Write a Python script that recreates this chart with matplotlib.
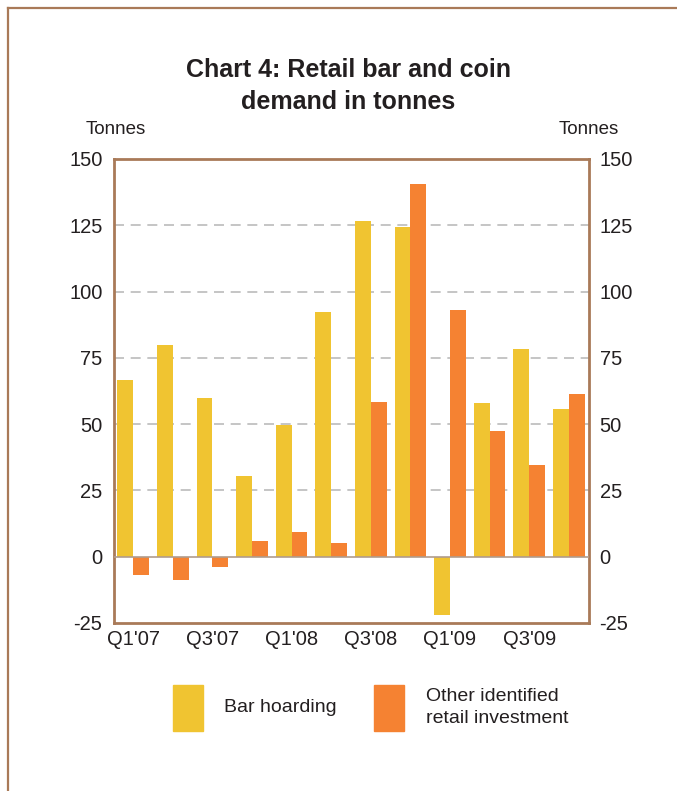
import numpy as np
import matplotlib.pyplot as plt
from matplotlib.patches import Rectangle
from matplotlib.lines import Line2D

quarters = ["Q1'07", "Q2'07", "Q3'07", "Q4'07", "Q1'08", "Q2'08",
            "Q3'08", "Q4'08", "Q1'09", "Q2'09", "Q3'09", "Q4'09"]
bar_hoarding = [66.7, 80.0, 60.0, 30.5, 49.8, 92.3, 126.6, 124.4, -21.9, 58.0, 78.4, 55.8]
other_retail = [-6.8, -8.7, -3.8, 6.0, 9.4, 5.3, 58.4, 140.6, 93.1, 47.5, 34.7, 61.4]
y_ticks = [-25, 0, 25, 50, 75, 100, 125, 150]

YELLOW = '#F0C431'
ORANGE = '#F58232'
BROWN = '#A97A58'
TEXT = '#231F20'

plt.rcParams['font.family'] = ['Liberation Sans', 'DejaVu Sans']

fig = plt.figure(figsize=(6.77, 7.91), dpi=100)

# outer frame: left and top edges only
fig.add_artist(Line2D([8 / 677, 8 / 677], [0, 1 - 8 / 791], transform=fig.transFigure,
                      color=BROWN, lw=1.6))
fig.add_artist(Line2D([8 / 677, 1], [1 - 8 / 791, 1 - 8 / 791], transform=fig.transFigure,
                      color=BROWN, lw=1.6))

ax = fig.add_axes([113.5 / 677, 1 - 623 / 791, 475 / 677, 464 / 791])
x = np.arange(len(quarters))
w = 0.4
ax.bar(x - w / 2, bar_hoarding, width=w, color=YELLOW, zorder=3)
ax.bar(x + w / 2, other_retail, width=w, color=ORANGE, zorder=3)

ax.set_xlim(-0.5, len(quarters) - 0.5)
ax.set_ylim(-25, 150)
ax.set_yticks(y_ticks)
ax.set_yticklabels([str(v) for v in y_ticks])
ax.set_xticks(x[::2])
ax.set_xticklabels(quarters[::2])
ax.tick_params(axis='both', length=0, labelsize=14.5, colors=TEXT)
ax.tick_params(axis='y', pad=8, labelright=True)
ax.tick_params(axis='x', pad=5)

for v in y_ticks[2:-1]:
    ax.axhline(v, color='#BBBBBB', lw=1.2, ls=(0, (6, 4)), zorder=1)
ax.axhline(0, color='#B09C8C', lw=1.2, zorder=4)

for s in ax.spines.values():
    s.set_color(BROWN)
    s.set_linewidth(2)

fig.text(116 / 677, 1 - 129 / 791, 'Tonnes', fontsize=13.5, color=TEXT,
         ha='center', va='center')
fig.text(589 / 677, 1 - 129 / 791, 'Tonnes', fontsize=13.5, color=TEXT,
         ha='center', va='center')

fig.text(348 / 677, 1 - 86 / 791, 'Chart 4: Retail bar and coin\ndemand in tonnes',
         fontsize=18, fontweight='bold', color=TEXT, ha='center', va='center',
         linespacing=1.42)

# legend swatches and labels
fig.add_artist(Rectangle((173 / 677, 1 - 731 / 791), 30 / 677, 46 / 791,
                         transform=fig.transFigure, color=YELLOW))
fig.text(224 / 677, 1 - 707 / 791, 'Bar hoarding', fontsize=14, color=TEXT,
         ha='left', va='center')
fig.add_artist(Rectangle((374 / 677, 1 - 731 / 791), 30 / 677, 46 / 791,
                         transform=fig.transFigure, color=ORANGE))
fig.text(426 / 677, 1 - 707.5 / 791, 'Other identified\nretail investment', fontsize=14,
         color=TEXT, ha='left', va='center', linespacing=1.32)

fig.savefig('out.png', dpi=100)
